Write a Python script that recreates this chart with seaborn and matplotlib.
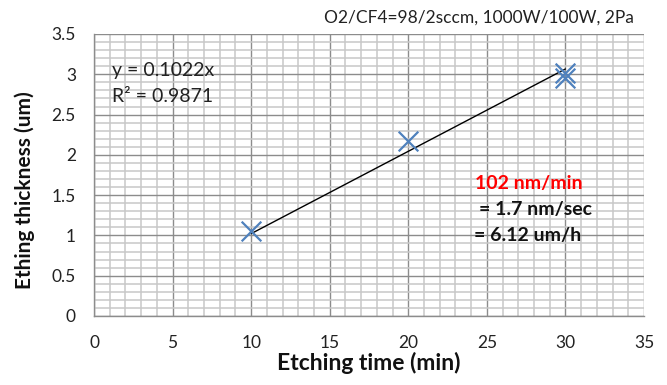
import numpy as np
import pandas as pd
import matplotlib
matplotlib.use("Agg")
import matplotlib.pyplot as plt
from matplotlib.ticker import MultipleLocator
import seaborn as sns

# data
etch_time = [10, 20, 30, 30]
thickness = [1.06, 2.17, 3.02, 2.96]
fit_x = [10, 30]
slope = 0.1022
r2 = 0.9871
x_ticks = [0, 5, 10, 15, 20, 25, 30, 35]
y_ticks = [0, 0.5, 1, 1.5, 2, 2.5, 3, 3.5]

sns.set_theme(style="white")
plt.rcParams['font.family'] = ['Lato', 'DejaVu Sans']

df = pd.DataFrame({"t": etch_time, "h": thickness})
fit_df = pd.DataFrame({"t": fit_x, "h": [slope * v for v in fit_x]})

fig = plt.figure(figsize=(6.67, 3.85), dpi=100)
ax = fig.add_axes([94/667, 1 - 316/385, (644-94)/667, (316-34)/385])

sns.lineplot(data=fit_df, x="t", y="h", ax=ax, color="black", linewidth=1.0, zorder=3)
sns.scatterplot(data=df, x="t", y="h", ax=ax, marker="x", s=200, color="#4f81bd",
                linewidth=1.6, zorder=4)

ax.set_xlim(0, 35)
ax.set_ylim(0, 3.5)
ax.set_xticks(x_ticks)
ax.set_yticks(y_ticks)
ax.xaxis.set_minor_locator(MultipleLocator(1))
ax.yaxis.set_minor_locator(MultipleLocator(0.1))
ax.set_xticklabels([str(v) for v in x_ticks], fontsize=12.5)
ax.set_yticklabels([("%g" % v) for v in y_ticks], fontsize=12.5)
ax.tick_params(axis="x", which="major", direction="out", length=4.5, width=1,
               color="#8c8c8c", pad=9, labelcolor="#222222")
ax.tick_params(axis="y", which="major", direction="out", length=5, width=1,
               color="#8c8c8c", pad=8, labelcolor="#222222")
ax.tick_params(axis="both", which="minor", length=0)

ax.set_axisbelow(True)
ax.grid(True, which="minor", axis="both", color="#c8c8c8", linewidth=1.1, linestyle="-")
ax.grid(True, which="major", axis="both", color="#8c8c8c", linewidth=1.0, linestyle="-")

for s in ["left", "bottom"]:
    ax.spines[s].set_color("#8c8c8c")
    ax.spines[s].set_linewidth(1)
for s in ["top", "right"]:
    ax.spines[s].set_visible(False)

ax.set_xlabel("Etching time (min)", fontsize=16.5, fontweight="bold", color="#111111")
ax.set_ylabel("Ething thickness (um)", fontsize=15, fontweight="bold", color="#111111")
ax.xaxis.set_label_coords(0.5, -(363 - 316) / 282, transform=ax.transAxes)
ax.yaxis.set_label_coords((25 - 94) / 550, (316 - 190) / 282, transform=ax.transAxes)
ax.xaxis.label.set_va("center")
ax.yaxis.label.set_va("center")

fig.text(634/667, 1 - 18/385, "O2/CF4=98/2sccm, 1000W/100W, 2Pa", ha="right", va="center",
         fontsize=12.5, color="#222222")

ax.text(1.15, 3.05, "y = 0.1022x", fontsize=14, va="center", ha="left", color="#222222")
ax.text(1.15, 2.72, "R² = 0.9871", fontsize=14, va="center", ha="left", color="#222222")

ax.text(24.25, 1.65, "102 nm/min", fontsize=14, fontweight="bold", color="#ff0000",
        ha="left", va="center")
ax.text(24.5, 1.316, "= 1.7 nm/sec", fontsize=14, fontweight="bold", color="#111111",
        ha="left", va="center")
ax.text(24.2, 0.993, "= 6.12 um/h", fontsize=14, fontweight="bold", color="#111111",
        ha="left", va="center")

fig.savefig("out.png", dpi=100)
